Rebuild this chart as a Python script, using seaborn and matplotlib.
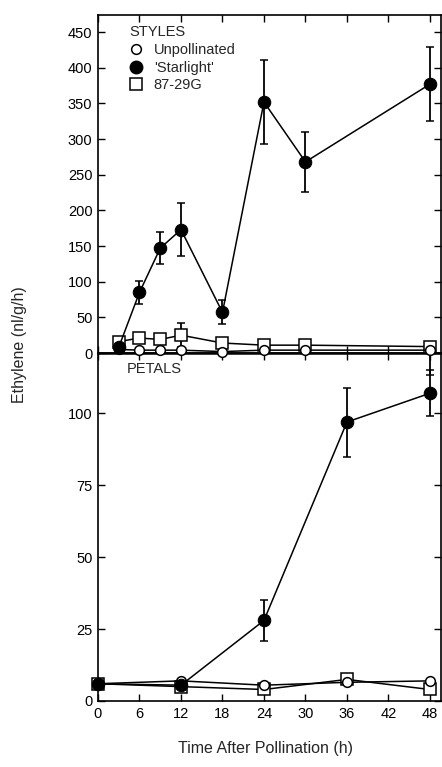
import matplotlib
matplotlib.use('Agg')
import matplotlib.pyplot as plt
from matplotlib.lines import Line2D
import seaborn as sns
import pandas as pd

# styles panel
style_t = [3, 6, 9, 12, 18, 24, 30, 48]
style_unpoll = [5, 4, 4, 4, 2, 4, 4, 4]
style_star = [8, 85, 147, 173, 57, 352, 268, 377]
style_star_err = [0, 16, 22, 37, 17, 59, 42, 52]
style_g = [16, 21, 19, 25, 14, 11, 11, 9]
style_g_err_lo = [0, 0, 0, 17, 0, 0, 0, 40]
style_g_err_hi = [0, 0, 0, 17, 0, 0, 0, 0]

# petals panel
pet_t = [0, 12, 24, 36, 48]
pet_unpoll = [6, 7, 5.5, 6.5, 7]
pet_star = [6, 5.5, 28, 97, 107]
pet_star_err = [0, 0, 7, 12, 8]
pet_g = [6, 5, 4, 7.5, 4]

x_ticks = [0, 6, 12, 18, 24, 30, 36, 42, 48]
labels = ['Unpollinated', "'Starlight'", '87-29G']

sns.set_style('ticks')
plt.rcParams['font.family'] = ['Liberation Sans', 'DejaVu Sans']
plt.rcParams['font.size'] = 10

fig = plt.figure(figsize=(4.42, 7.67), dpi=100)
ax2 = fig.add_axes([98/442, 1-701/767, 343/442, 348/767])
ax1 = fig.add_axes([98/442, 1-353/767, 343/442, 338/767], sharex=ax2)
ax1.set_zorder(3)
ax1.patch.set_visible(False)

lw = 1.1
circle_kw = dict(marker='o', markersize=7, markerfacecolor='white', markeredgecolor='black', markeredgewidth=1.1)
square_kw = dict(marker='s', markersize=9, markerfacecolor='white', markeredgecolor='black', markeredgewidth=1.1)
dot_kw = dict(marker='o', markersize=9, markerfacecolor='black', markeredgecolor='black')

styles = pd.DataFrame({'t': style_t, 'unpoll': style_unpoll, 'star': style_star, 'g': style_g})
petals = pd.DataFrame({'t': pet_t, 'unpoll': pet_unpoll, 'star': pet_star, 'g': pet_g})

def draw(ax, df, star_err, g_err):
    sns.lineplot(data=df, x='t', y='g', color='black', lw=lw, ax=ax, clip_on=False, zorder=3, **square_kw)
    sns.lineplot(data=df, x='t', y='unpoll', color='black', lw=lw, ax=ax, clip_on=False, zorder=4, **circle_kw)
    sns.lineplot(data=df, x='t', y='star', color='black', lw=lw, ax=ax, clip_on=False, zorder=5, **dot_kw)
    ax.errorbar(df.t, df.star, yerr=star_err, fmt='none', ecolor='black', elinewidth=1.3,
                capsize=3, capthick=1.1, zorder=5, clip_on=False)
    if g_err is not None:
        ax.errorbar(df.t, df.g, yerr=g_err, fmt='none', ecolor='black', elinewidth=1.3,
                    capsize=3, capthick=1.1, zorder=2, clip_on=False)

draw(ax1, styles, style_star_err, [style_g_err_lo, style_g_err_hi])
draw(ax2, petals, pet_star_err, None)

ax1.set_xlim(0, 49.6)
ax1.set_ylim(0, 474)
ax1.set_yticks(range(0, 451, 50))
ax2.set_ylim(0, 121)
ax2.set_yticks([0, 25, 50, 75, 100])
ax2.set_xticks(x_ticks)

for ax in (ax1, ax2):
    ax.set_xlabel('')
    ax.set_ylabel('')
    ax.tick_params(direction='in', top=True, right=True, length=5, width=1,
                   labelsize=10.5, colors='black', pad=4)
    for s in ax.spines.values():
        s.set_linewidth(1.2)
        s.set_color('black')
ax1.tick_params(labelbottom=False)
ax1.spines['bottom'].set_linewidth(1.8)

handles = [Line2D([], [], ls='none', color='black', **circle_kw),
           Line2D([], [], ls='none', color='black', **dot_kw),
           Line2D([], [], ls='none', color='black', **square_kw)]
leg = ax1.legend(handles, labels, title='STYLES', loc='upper left', bbox_to_anchor=(0.065, 0.995),
                 frameon=False, fontsize=10.5, title_fontsize=10.5, alignment='left',
                 handlelength=1.0, handletextpad=0.7, labelspacing=0.25, borderaxespad=0.2)

ax2.text(0.085, 0.975, 'PETALS', transform=ax2.transAxes, ha='left', va='top', fontsize=10.5)

fig.text(20/442, 1-345/767, 'Ethylene (nl/g/h)', rotation=90, ha='center', va='center', fontsize=11.5)
fig.text(265/442, 1-748/767, 'Time After Pollination (h)', ha='center', va='center', fontsize=11.5)

fig.savefig('out.png', dpi=100)
